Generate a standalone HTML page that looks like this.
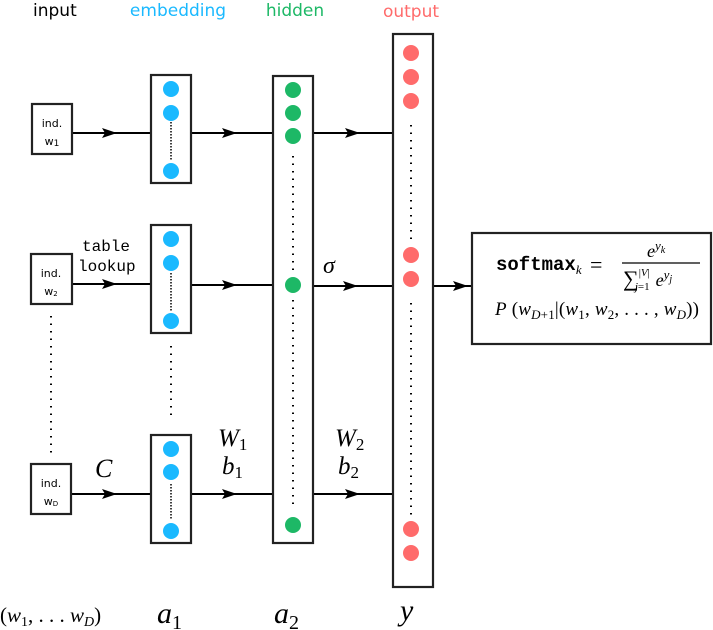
<!DOCTYPE html>
<html><head><meta charset="utf-8"><style>
html,body{margin:0;padding:0;background:#fff;}
svg{display:block}
.lab{font-family:"DejaVu Sans","Liberation Sans",sans-serif}
.m{font-family:"Liberation Serif","DejaVu Serif",serif;font-style:italic}
.tt{font-family:"Liberation Mono","DejaVu Sans Mono",monospace}
</style></head><body>
<svg width="713" height="630" viewBox="0 0 713 630" xmlns="http://www.w3.org/2000/svg">
<g class="lab" style="font-size:17px">
<text x="33" y="16" fill="#000">input</text>
<text x="178" y="16" fill="#1ab9ff" text-anchor="middle">embedding</text>
<text x="295" y="16" fill="#1db866" text-anchor="middle">hidden</text>
<text x="411" y="17" fill="#ff6b6b" text-anchor="middle">output</text>
</g>
<g fill="none" stroke="#000" stroke-width="2">
<path d="M72,133 H151 M191,133 H273 M313,133 H393"/>
<path d="M72,284 H151 M191,285 H273 M313,286 H393 M433,286 H472"/>
<path d="M72,494 H151 M191,494 H273 M313,494 H393"/>
</g>
<g fill="#000">
<path d="M102,128 L117,133 L102,138 L105,133Z"/>
<path d="M222,128 L237,133 L222,138 L225,133Z"/>
<path d="M345,128 L360,133 L345,138 L348,133Z"/>
<path d="M102,279 L117,284 L102,289 L105,284Z"/>
<path d="M222,280 L237,285 L222,290 L225,285Z"/>
<path d="M343,281 L358,286 L343,291 L346,286Z"/>
<path d="M453,281 L468,286 L453,291 L456,286Z"/>
<path d="M102,489 L117,494 L102,499 L105,494Z"/>
<path d="M222,489 L237,494 L222,499 L225,494Z"/>
<path d="M345,489 L360,494 L345,499 L348,494Z"/>
</g>
<g fill="#fff" stroke="#222" stroke-width="2.2">
<rect x="32" y="104" width="40" height="50"/>
<rect x="31" y="254" width="41" height="50"/>
<rect x="31" y="464" width="40" height="50"/>
<rect x="151" y="75" width="40" height="108"/>
<rect x="151" y="225" width="40" height="108"/>
<rect x="151" y="435" width="40" height="108"/>
<rect x="273" y="76" width="40" height="467"/>
<rect x="393" y="34" width="40" height="553"/>
<rect x="472" y="233" width="239" height="111"/>
</g>
<g class="lab" style="font-size:11px" text-anchor="middle">
<text x="52" y="127">ind.</text><text x="52" y="145">w<tspan style="font-size:9px" dy="1">1</tspan></text>
<text x="51" y="277">ind.</text><text x="51" y="295">w<tspan style="font-size:7px" dy="1">2</tspan></text>
<text x="51" y="487">ind.</text><text x="51" y="505">w<tspan style="font-size:7px" dy="1">D</tspan></text>
</g>
<g stroke="#000" stroke-width="2" stroke-dasharray="1.5 6" fill="none">
<path d="M51,316 V456"/>
<path d="M171,346 V420"/>
<path d="M293,156 V272"/>
<path d="M293,300 V510"/>
<path d="M411,125 V240"/>
<path d="M411,303 V515"/>
</g>
<g stroke="#000" stroke-width="1.5" stroke-dasharray="1.5 1.5">
<path d="M171,122 V160 M171,273 V312 M171,484 V520"/>
</g>
<g fill="#1ab9ff">
<circle cx="171" cy="89" r="8"/><circle cx="171" cy="113" r="8"/><circle cx="171" cy="171" r="8"/>
<circle cx="171" cy="239" r="8"/><circle cx="171" cy="263" r="8"/><circle cx="171" cy="321" r="8"/>
<circle cx="171" cy="449" r="8"/><circle cx="171" cy="472" r="8"/><circle cx="171" cy="531" r="8"/>
</g>
<g fill="#1db866">
<circle cx="293" cy="90" r="8"/><circle cx="293" cy="113" r="8"/><circle cx="293" cy="136" r="8"/>
<circle cx="293" cy="285" r="8"/><circle cx="293" cy="525" r="8"/>
</g>
<g fill="#ff6b6b">
<circle cx="411" cy="53" r="8"/><circle cx="411" cy="77" r="8"/><circle cx="411" cy="101" r="8"/>
<circle cx="411" cy="255" r="8"/><circle cx="411" cy="279" r="8"/>
<circle cx="411" cy="529" r="8"/><circle cx="411" cy="553" r="8"/>
</g>
<g class="tt" style="font-size:16px" fill="#000">
<text x="82" y="251">table</text><text x="78" y="271">lookup</text>
</g>
<g class="m" fill="#000">
<text x="95" y="477" style="font-size:26px">C</text>
<text x="218" y="446" style="font-size:25px">W<tspan style="font-size:17px;font-style:normal" dy="4">1</tspan></text>
<text x="222" y="474" style="font-size:25px">b<tspan style="font-size:17px;font-style:normal" dy="4">1</tspan></text>
<text x="335" y="446" style="font-size:25px">W<tspan style="font-size:17px;font-style:normal" dy="4">2</tspan></text>
<text x="338" y="474" style="font-size:25px">b<tspan style="font-size:17px;font-style:normal" dy="4">2</tspan></text>
<text x="323" y="273" style="font-size:24px">σ</text>
<text x="0" y="622" style="font-size:21px"><tspan style="font-style:normal">(</tspan>w<tspan style="font-size:14px;font-style:normal" dy="4">1</tspan><tspan dy="-4" style="font-style:normal">, . . . </tspan>w<tspan style="font-size:14px" dy="4">D</tspan><tspan dy="-4" style="font-style:normal">)</tspan></text>
<text x="157" y="623" style="font-size:30px">a<tspan style="font-size:20px;font-style:normal" dy="6">1</tspan></text>
<text x="274" y="623" style="font-size:30px">a<tspan style="font-size:20px;font-style:normal" dy="6">2</tspan></text>
<text x="400" y="620" style="font-size:30px">y</text>
</g>
<g fill="#000">
<text x="496" y="270" class="tt" style="font-size:19px;font-weight:bold">softmax<tspan class="m" style="font-size:13px;font-weight:normal" dy="4">k</tspan></text>
<text x="590" y="272" style="font-family:'Liberation Serif',serif;font-size:22px">=</text>
<text x="647" y="257" class="m" style="font-size:18px">e<tspan style="font-size:13px" dy="-7">y</tspan><tspan style="font-size:10px" dy="3">k</tspan></text>
<line x1="622" y1="263" x2="700" y2="263" stroke="#000" stroke-width="1.2"/>
<text x="623" y="286" class="m" style="font-size:18px"><tspan style="font-style:normal;font-size:22px">∑</tspan><tspan style="font-size:11px;font-style:normal" dy="-10">|</tspan><tspan style="font-size:11px">V</tspan><tspan style="font-size:11px;font-style:normal">|</tspan><tspan style="font-size:11px" dx="-15" dy="14">j</tspan><tspan style="font-size:11px;font-style:normal">=1</tspan><tspan dy="-4" dx="6">e</tspan><tspan style="font-size:13px" dy="-7">y</tspan><tspan style="font-size:10px" dy="3">j</tspan></text>
<text x="495" y="315" class="m" style="font-size:19px" textLength="204" lengthAdjust="spacing">P<tspan style="font-style:normal"> (</tspan>w<tspan style="font-size:13px" dy="4">D</tspan><tspan style="font-size:13px;font-style:normal">+1</tspan><tspan dy="-4" style="font-style:normal">|(</tspan>w<tspan style="font-size:13px;font-style:normal" dy="4">1</tspan><tspan dy="-4" style="font-style:normal">, </tspan>w<tspan style="font-size:13px;font-style:normal" dy="4">2</tspan><tspan dy="-4" style="font-style:normal">, . . . , </tspan>w<tspan style="font-size:13px" dy="4">D</tspan><tspan dy="-4" style="font-style:normal">))</tspan></text>
</g>
</svg>
</body></html>
